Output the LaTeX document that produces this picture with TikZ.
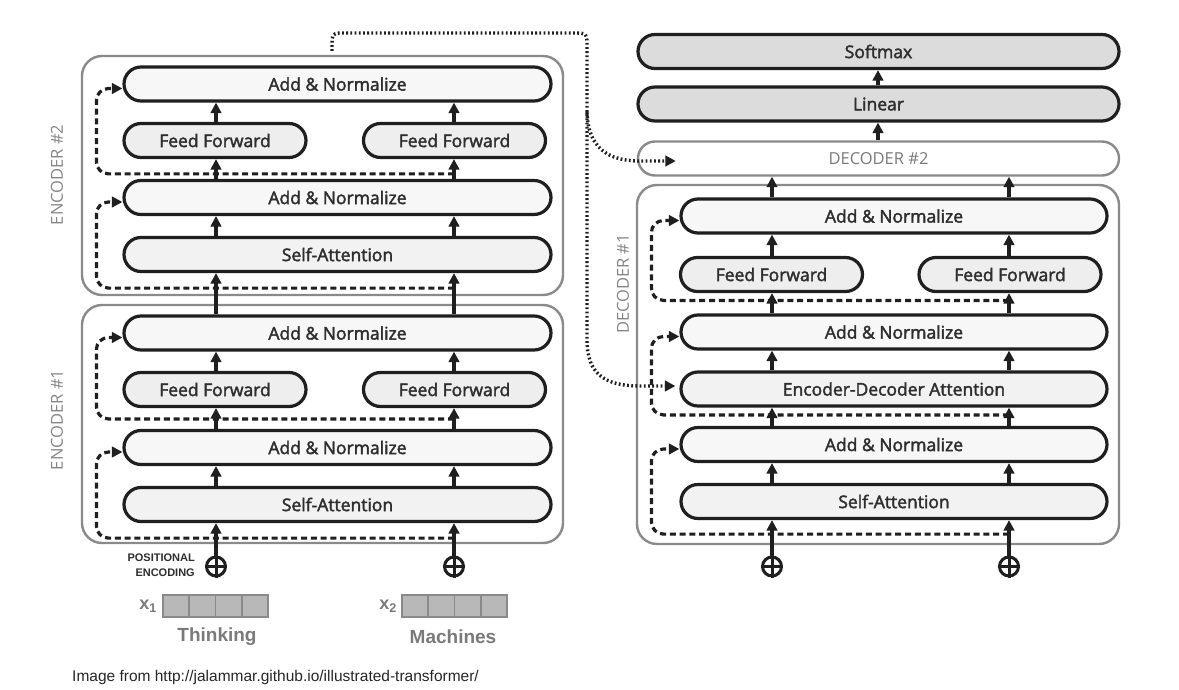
\documentclass[tikz,border=0pt]{standalone}
\usepackage{fontspec}
\setmainfont{Open Sans}
\newfontfamily\nf{Open Sans}[FakeBold=2.2]
\newfontfamily\af{Liberation Sans}
\usetikzlibrary{arrows.meta,calc}
\definecolor{boxgray}{HTML}{8A8A8A}
\definecolor{lblgray}{HTML}{858585}
\definecolor{txt}{HTML}{2E2E2E}
\definecolor{anfill}{HTML}{F7F7F7}
\definecolor{fffill}{HTML}{EEEEEE}
\definecolor{safill}{HTML}{F2F2F2}
\definecolor{outfill}{HTML}{DCDCDC}
\definecolor{cellfill}{HTML}{B8B8B8}
\definecolor{wordgray}{HTML}{7A7A7A}
\begin{document}
\begin{tikzpicture}[x=1pt,y=-1pt,
  outer/.style={draw=boxgray, line width=2.4pt, rounded corners=20pt, inner sep=0pt},
  blk/.style={draw=black!88, line width=3.2pt, rounded corners=17pt, inner sep=0pt,
    minimum height=34pt, font=\nf\fontsize{17.5}{20}\selectfont, text=txt},
  anorm/.style={blk, fill=anfill, minimum width=427pt},
  attn/.style={blk, fill=safill, minimum width=427pt},
  ffn/.style={blk, fill=fffill, minimum width=182pt},
  outl/.style={blk, fill=outfill, minimum width=481pt},
  arr/.style={line width=3.2pt, draw=black!88, -{Triangle[length=10.5pt,width=10.5pt]}},
  res/.style={line width=3.2pt, draw=black!88, dash pattern=on 6pt off 3.8pt,
    rounded corners=12pt, -{Triangle[length=10.5pt,width=10.5pt]}},
  dotp/.style={line width=3.4pt, draw=black!88, dash pattern=on 1.8pt off 2.4pt,
    -{Triangle[length=10.5pt,width=10.5pt]}},
  side/.style={rotate=90, text=lblgray, font=\fontsize{16.5}{18}\selectfont},
  pe/.style={circle, draw=black!88, line width=3pt, minimum size=19pt, inner sep=0pt},
  cell/.style={draw=boxgray, fill=cellfill, line width=1.6pt, minimum width=26.25pt,
    minimum height=22pt, inner sep=0pt},
  word/.style={text=wordgray, font=\af\bfseries\fontsize{19}{22}\selectfont}
]
\useasboundingbox (0,0) rectangle (1179,690);

% column coordinates
\coordinate (eA) at (216,0);
\coordinate (eB) at (454,0);
\coordinate (dA) at (772,0);
\coordinate (dB) at (1009,0);
\coordinate (tC) at (878,0);

% outer boxes
\node[outer, minimum width=481pt, minimum height=239pt] (enc2) at (322.5,175.5) {};
\node[outer, minimum width=481pt, minimum height=238pt] (enc1) at (322.5,424) {};
\node[outer, minimum width=482pt, minimum height=359pt] (dec1) at (878,364.5) {};

\node[side] (lenc2) at (57,175) {ENCODER \#2};
\node[side] (lenc1) at (57,420) {ENCODER \#1};
\node[side] (ldec1) at (623,284) {DECODER \#1};

% encoder 2
\node[anorm] (an2t) at (337.5,84) {Add \& Normalize};
\node[ffn] (ff2l) at (215,140.5) {Feed Forward};
\node[ffn] (ff2r) at (454.5,140.5) {Feed Forward};
\node[anorm] (an2b) at (337.5,197.5) {Add \& Normalize};
\node[attn] (sa2) at (337.5,254.5) {Self-Attention};

% encoder 1
\node[anorm] (an1t) at (337.5,333) {Add \& Normalize};
\node[ffn] (ff1l) at (215,389.5) {Feed Forward};
\node[ffn] (ff1r) at (454.5,389.5) {Feed Forward};
\node[anorm] (an1b) at (337.5,447.5) {Add \& Normalize};
\node[attn] (sa1) at (337.5,504.5) {Self-Attention};

% decoder 1
\node[anorm, minimum width=426pt] (andt) at (894,216) {Add \& Normalize};
\node[ffn] (ffdl) at (771.5,274.5) {Feed Forward};
\node[ffn] (ffdr) at (1010,274.5) {Feed Forward};
\node[anorm, minimum width=426pt] (andm) at (894,332) {Add \& Normalize};
\node[attn, minimum width=426pt] (edat) at (894,389) {Encoder-Decoder Attention};
\node[anorm, minimum width=426pt] (andb) at (894,444.5) {Add \& Normalize};
\node[attn, minimum width=426pt] (sad) at (894,501.5) {Self-Attention};

% output stack
\node[outl] (soft) at (878.5,51.5) {Softmax};
\node[outl] (lin) at (878.5,104) {Linear};
\node[blk, draw=boxgray, line width=2.4pt, fill=white, minimum width=481pt, text=wordgray,
  font=\fontsize{16.5}{18}\selectfont] (dec2) at (878.5,158.5) {DECODER \#2};

% positional encodings
\foreach \n/\x in {pe1/216, pe2/454, pd1/772, pd2/1009} {
  \node[pe] (\n) at (\x,566.5) {};
  \draw[line width=3pt, draw=black!88] (\n.north) -- (\n.south) (\n.west) -- (\n.east);
}
\node[anchor=east, align=right, text=txt, inner sep=0pt,
  font=\af\bfseries\fontsize{11}{15}\selectfont] (pelbl) at (195,565) {POSITIONAL\\ENCODING};

% embeddings
\foreach \i in {0,1,2,3} {
  \node[cell] (ca\i) at ({176.1+26.25*\i},606) {};
  \node[cell] (cb\i) at ({415.1+26.25*\i},606) {};
}
\node[anchor=east, text=wordgray, inner sep=0pt, font=\af\bfseries\fontsize{18}{18}\selectfont] (x1) at (157,606) {x\textsubscript{1}};
\node[anchor=east, text=wordgray, inner sep=0pt, font=\af\bfseries\fontsize{18}{18}\selectfont] (x2) at (397,606) {x\textsubscript{2}};
\node[word] (w1) at (217,637) {Thinking};
\node[word] (w2) at (453,637) {Machines};

\node[anchor=west, inner sep=0pt, text=black!85, font=\af\fontsize{15.5}{18}\selectfont] (cap) at (72,677)
  {Image from http://jalammar.github.io/illustrated-transformer/};

% encoder arrows
\foreach \c/\pe/\ffa/\ffb in {eA/pe1/ff1l/ff2l, eB/pe2/ff1r/ff2r} {
  \draw[arr] (\pe.north) -- (sa1.south -| \c);
  \draw[arr] (sa1.north -| \c) -- (an1b.south -| \c);
  \draw[arr] (an1b.north -| \c) -- (\ffa.south -| \c);
  \draw[arr] (\ffa.north -| \c) -- (an1t.south -| \c);
  \draw[arr] (an1t.north -| \c) -- (sa2.south -| \c);
  \draw[arr] (sa2.north -| \c) -- (an2b.south -| \c);
  \draw[arr] (an2b.north -| \c) -- (\ffb.south -| \c);
  \draw[arr] (\ffb.north -| \c) -- (an2t.south -| \c);
}
% decoder arrows
\foreach \c/\pe/\ff in {dA/pd1/ffdl, dB/pd2/ffdr} {
  \draw[arr] (\pe.north) -- (sad.south -| \c);
  \draw[arr] (sad.north -| \c) -- (andb.south -| \c);
  \draw[arr] (andb.north -| \c) -- (edat.south -| \c);
  \draw[arr] (edat.north -| \c) -- (andm.south -| \c);
  \draw[arr] (andm.north -| \c) -- (\ff.south -| \c);
  \draw[arr] (\ff.north -| \c) -- (andt.south -| \c);
  \draw[arr] (andt.north -| \c) -- (dec2.south -| \c);
}
\draw[arr] (dec2.north -| tC) -- (lin.south -| tC);
\draw[arr] (lin.north -| tC) -- (soft.south -| tC);

% residual connections
\draw[res] ($(an2b.north -| eB)+(0,-5)$) -| ($(an2t.west)+(-26,4.5)$) -- ([yshift=-4.5pt]an2t.west);
\draw[res] ($(sa2.south -| eB)+(0,15)$) -| ($(an2b.west)+(-26,4.5)$) -- ([yshift=-4.5pt]an2b.west);
\draw[res] ($(an1b.north -| eB)+(0,-10)$) -| ($(an1t.west)+(-26,4.5)$) -- ([yshift=-4.5pt]an1t.west);
\draw[res] ($(sa1.south -| eB)+(0,15)$) -| ($(an1b.west)+(-26,4.5)$) -- ([yshift=-4.5pt]an1b.west);
\draw[res] ($(andm.north -| dB)+(0,-13)$) -| ($(andt.west)+(-28,4.5)$) -- ([yshift=-4.5pt]andt.west);
\draw[res] ($(andb.north -| dB)+(0,-11)$) -| ($(andm.west)+(-28,4.5)$) -- ([yshift=-4.5pt]andm.west);
\draw[res] ($(sad.south -| dB)+(0,14)$) -| ($(andb.west)+(-28,4.5)$) -- ([yshift=-4.5pt]andb.west);

% encoder output to decoders (dotted)
\coordinate (dstart) at (332,51);
\coordinate (dbranch) at (587,112);
\draw[dotp] (dstart) -- (332,47) .. controls (332,33) and (332,33) .. (346,33) -- (573,33)
  .. controls (587,33) and (587,33) .. (587,47) -- (587,340)
  .. controls (587,374) and (605,386) .. (640,386) -- ([xshift=-4pt,yshift=3pt]edat.west);
\draw[dotp] (dbranch) .. controls (588,148) and (608,161) .. (640,161) -- ([xshift=39pt,yshift=-2.5pt]dec2.west);
\end{tikzpicture}
\end{document}
